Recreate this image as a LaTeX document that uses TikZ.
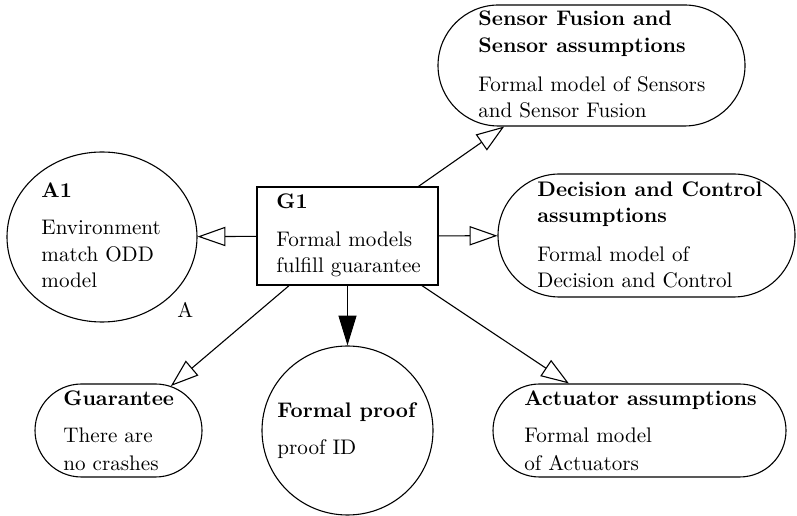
\documentclass[tikz,border=0pt]{standalone}
\usetikzlibrary{shapes.geometric,shapes.misc,arrows.meta}
\begin{document}
\begin{tikzpicture}[x=0.455pt,y=-0.455pt,
  shp/.style={draw,line width=0.5pt,inner sep=0pt},
  stad/.style={shp,rounded rectangle},
  ell/.style={shp,ellipse},
  box/.style={shp,rectangle},
  txt/.style={anchor=base west,inner sep=0pt,font=\fontsize{9.6pt}{11.5pt}\selectfont},
  oarrow/.style={line width=0.5pt,-{Triangle[open,length=12.7pt,width=8.8pt,line width=0.5pt]}},
  farrow/.style={line width=0.5pt,-{Triangle[length=13.6pt,width=8.2pt]}}]
\useasboundingbox (0,0) rectangle (797,516);
% shapes
\node[box,minimum width={181*0.455pt},minimum height={98*0.455pt}] (g1) at (347.5,236) {};
\node[ell,minimum width={190*0.455pt},minimum height={170*0.455pt}] (a1) at (102,237) {};
\node[stad,minimum width={307*0.455pt},minimum height={121*0.455pt}] (sf) at (591.5,65.5) {};
\node[stad,minimum width={297*0.455pt},minimum height={123*0.455pt}] (dc) at (646.5,235.5) {};
\node[stad,minimum width={167*0.455pt},minimum height={93*0.455pt}] (gu) at (118.5,430.5) {};
\node[stad,minimum width={293*0.455pt},minimum height={93*0.455pt}] (ac) at (639.5,430.5) {};
\node[ell,minimum width={171*0.455pt},minimum height={169*0.455pt}] (fp) at (347.5,430.5) {};
% texts
\node[txt] (a1t1) at (41,198) {\textbf{A1}};
\node[txt] (a1t2) at (41,235) {Environment};
\node[txt] (a1t3) at (41,262) {match ODD};
\node[txt] (a1t4) at (41,288) {model};
\node[txt] (alab) at (177,318) {A};
\node[txt] (g1t1) at (276,209) {\textbf{G1}};
\node[txt] (g1t2) at (276,247) {Formal models};
\node[txt] (g1t3) at (276,273) {fulfill guarantee};
\node[txt] (sft1) at (478,26) {\textbf{Sensor Fusion and}};
\node[txt] (sft2) at (478,53) {\textbf{Sensor assumptions}};
\node[txt] (sft3) at (478,92) {Formal model of Sensors};
\node[txt] (sft4) at (478,118) {and Sensor Fusion};
\node[txt] (dct1) at (537,197) {\textbf{Decision and Control}};
\node[txt] (dct2) at (537,223) {\textbf{assumptions}};
\node[txt] (dct3) at (537,262) {Formal model of};
\node[txt] (dct4) at (537,288) {Decision and Control};
\node[txt] (gut1) at (63,406) {\textbf{Guarantee}};
\node[txt] (gut2) at (63,443) {There are};
\node[txt] (gut3) at (63,471) {no crashes};
\node[txt] (fpt1) at (277,418) {\textbf{Formal proof}};
\node[txt] (fpt2) at (277,455) {proof ID};
\node[txt] (act1) at (524,406) {\textbf{Actuator assumptions}};
\node[txt] (act2) at (524,443) {Formal model};
\node[txt] (act3) at (524,471) {of Actuators};
% connectors
\draw[oarrow] (g1) -- (a1);
\draw[oarrow] (g1) -- (sf);
\draw[oarrow] (g1) -- (dc);
\draw[oarrow] (g1) -- (gu);
\draw[oarrow] (g1) -- (ac);
\draw[farrow] (g1) -- (fp);
\end{tikzpicture}
\end{document}
